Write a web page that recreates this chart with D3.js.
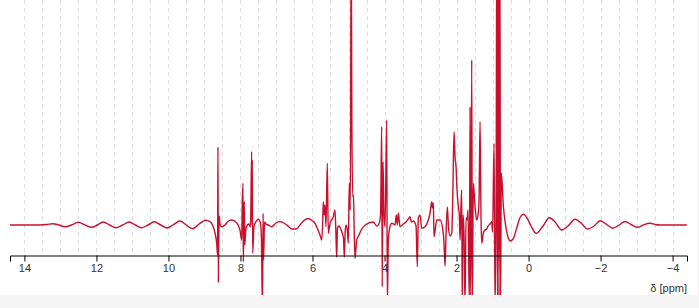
<!DOCTYPE html>
<html>
<head>
<meta charset="utf-8">
<script src="https://cdn.jsdelivr.net/npm/d3@7"></script>
<style>
  html, body { margin: 0; padding: 0; background: #f5f5f5; }
  svg { display: block; background: #fff; }
  .axis text { font: 11px "Liberation Sans", Arial, sans-serif; fill: #333; }
  .axis path, .axis line { stroke: #000; }
  .grid line { stroke: #ddd; stroke-dasharray: 4,4; }
</style>
</head>
<body>
<svg id="chart" width="697" height="295"></svg>
<script>
// chemical shift (ppm) and intensity (a.u.)
const shifts = [
  14.403, 13.569, 13.375, 13.208, 13.042, 12.875, 12.694, 12.506, 12.319, 12.133,
  11.972, 11.811, 11.633, 11.458, 11.272, 11.089, 10.917, 10.744, 10.569, 10.394,
  10.214, 10.033, 9.856, 9.681, 9.506, 9.328, 9.147, 8.967, 8.847, 8.764,
  8.708, 8.661, 8.636, 8.625, 8.614, 8.603, 8.589, 8.569, 8.522, 8.431,
  8.347, 8.244, 8.106, 8.014, 7.967, 7.950, 7.931, 7.922, 7.908, 7.894,
  7.881, 7.847, 7.806, 7.764, 7.722, 7.689, 7.681, 7.672, 7.661, 7.625,
  7.569, 7.506, 7.444, 7.417, 7.403, 7.389, 7.372, 7.358, 7.333, 7.292,
  7.228, 7.133, 7.014, 6.903, 6.792, 6.681, 6.569, 6.458, 6.347, 6.236,
  6.117, 6.014, 5.931, 5.847, 5.792, 5.744, 5.717, 5.700, 5.675, 5.653,
  5.625, 5.589, 5.561, 5.514, 5.422, 5.375, 5.347, 5.328, 5.306, 5.264,
  5.189, 5.139, 5.117, 5.092, 5.069, 5.028, 5.006, 4.978, 4.950, 4.925,
  4.908, 4.883, 4.861, 4.842, 4.819, 4.772, 4.722, 4.633, 4.514, 4.403,
  4.311, 4.217, 4.153, 4.111, 4.078, 4.064, 4.042, 4.014, 3.986, 3.939,
  3.922, 3.894, 3.867, 3.800, 3.750, 3.708, 3.672, 3.644, 3.617, 3.569,
  3.478, 3.403, 3.339, 3.292, 3.250, 3.194, 3.125, 3.089, 3.061, 3.014,
  2.967, 2.875, 2.783, 2.736, 2.689, 2.667, 2.644, 2.625, 2.550, 2.458,
  2.367, 2.339, 2.319, 2.292, 2.256, 2.222, 2.181, 2.133, 2.106, 2.069,
  2.042, 2.014, 1.986, 1.950, 1.922, 1.903, 1.875, 1.856, 1.842, 1.819,
  1.792, 1.764, 1.736, 1.708, 1.681, 1.644, 1.625, 1.606, 1.578, 1.561,
  1.533, 1.486, 1.439, 1.403, 1.375, 1.347, 1.319, 1.300, 1.256, 1.208,
  1.161, 1.125, 1.069, 1.022, 1.000, 0.958, 0.931, 0.903, 0.881, 0.861,
  0.839, 0.819, 0.797, 0.778, 0.756, 0.700, 0.625, 0.561, 0.514, 0.431,
  0.328, 0.236, 0.144, 0.042, -0.069, -0.208, -0.403, -0.578, -0.736, -0.922,
  -1.097, -1.292, -1.458, -1.633, -1.819, -1.986, -2.153, -2.339, -2.514, -2.681,
  -2.847, -3.022, -3.181, -3.375, -3.514, -3.653, -4.394
];
const intensities = [
  0, 0, 0.5, 1.3, 0, -1.7, 0, 2.7, 0.2, -2.3,
  0, 3, 0, -2.7, 0, 3, 0, -2.7, 0, 3.3,
  0, -3, 0.5, 4, 0, -3.7, 1, 4.7, 3.3, -1,
  -8, -18, -30, 78, -57, -15, 9, 1, -1.7, 0,
  3.5, 5, 2.3, -5, -15, 22, 41.7, -36.7, -7, 23.3,
  -20, -3.3, 0, 1, -2, 73.3, 0, 65, -28.3, -1.7,
  3.3, 5.7, 1.7, -15, -55, -80, 11.7, -35, 3, 1,
  0, -1.7, 2, 3.5, 2, -1, -4, -4, 0, 4.5,
  6.5, 4.5, 1.7, -5, -10, -15, 1.7, 23.3, 10, 20,
  -1.7, 61.7, -8.3, 1.7, 8.3, 15, -11.7, -32, -3, -1,
  -6.7, -13, -32, -7, 0, -7, -18, 41.7, 15, 300,
  110, 28.3, 30, -5, -33.3, -15, -11, -4, 0.5, 2.5,
  3, -1, 1, 10, 98.3, -61.7, 63.3, 10, -1.7, 105,
  -80, -15, -5, 1.7, 1, 0, 10, 0, 12, -1.7,
  1, 3, 6, 8.3, 3, 4, -1, -41.7, 7, 10,
  -3.3, -1.7, 5, 12, 23.3, 17, 22, -11.7, 5, 5,
  -8.3, -25, -41, -10, 18, -3, -11, -8, 25, 93.3,
  68.3, 58.3, 35, 18.3, 10, -15, 20, 35, -80, 10,
  -10, -80, 7, 5, 15, -80, 118, -80, 165, -80,
  41.7, 18.3, 5, 10, 25, 103.3, 5, -18.3, -8, -5,
  -4, -1, 1, 3.3, -7, 81.7, -80, -5, 300, -80,
  300, -80, 300, -80, 52, 19, -3, -13, -16, -14,
  -3, 7.5, 10.7, 7, -1, -8.3, -1, 7.3, 3, -5,
  -1, 5.7, 2, -4, -1, 4.3, 1, -3.3, 0, 3.5,
  0.5, -2.3, 0, 1.7, 0.5, 0, 0
];
const shiftDomain = [14.4, -4.4];
const intensityDomain = [-70, 225];
const tickValues = [14, 12, 10, 8, 6, 4, 2, 0, -2, -4];
const gridStep = 0.5;

const svg = d3.select("#chart");
const width = +svg.attr("width");
const height = +svg.attr("height");
const margin = { left: 10, right: 10, axisY: 255.5 };

const x = d3.scaleLinear().domain(shiftDomain).range([margin.left, width - margin.right]);
const y = d3.scaleLinear().domain(intensityDomain).range([height, 0]);

const gridVals = d3.range(14, -4.4, -gridStep);
svg.append("g")
    .attr("class", "grid")
    .selectAll("line")
    .data(gridVals)
    .enter().append("line")
    .attr("x1", d => Math.round(x(d)) + 0.5)
    .attr("x2", d => Math.round(x(d)) + 0.5)
    .attr("y1", 0)
    .attr("y2", margin.axisY);

const points = shifts.map((s, i) => ({ ppm: s, value: intensities[i] }));

const line = d3.line()
    .x(d => x(d.ppm))
    .y(d => y(d.value))
    .curve(d3.curveMonotoneX);

svg.append("path")
    .datum(points)
    .attr("fill", "none")
    .attr("stroke", "#c8102e")
    .attr("stroke-width", 1.4)
    .attr("stroke-linejoin", "round")
    .attr("d", line);

svg.append("g")
    .attr("class", "axis")
    .attr("transform", "translate(0," + margin.axisY + ")")
    .call(d3.axisBottom(x).tickValues(tickValues).tickSize(6).tickSizeOuter(6));

svg.append("text")
    .attr("x", width - margin.right)
    .attr("y", 292)
    .attr("text-anchor", "end")
    .style("font", "11px 'Liberation Sans', Arial, sans-serif")
    .style("fill", "#333")
    .text("δ [ppm]");
</script>
</body>
</html>
